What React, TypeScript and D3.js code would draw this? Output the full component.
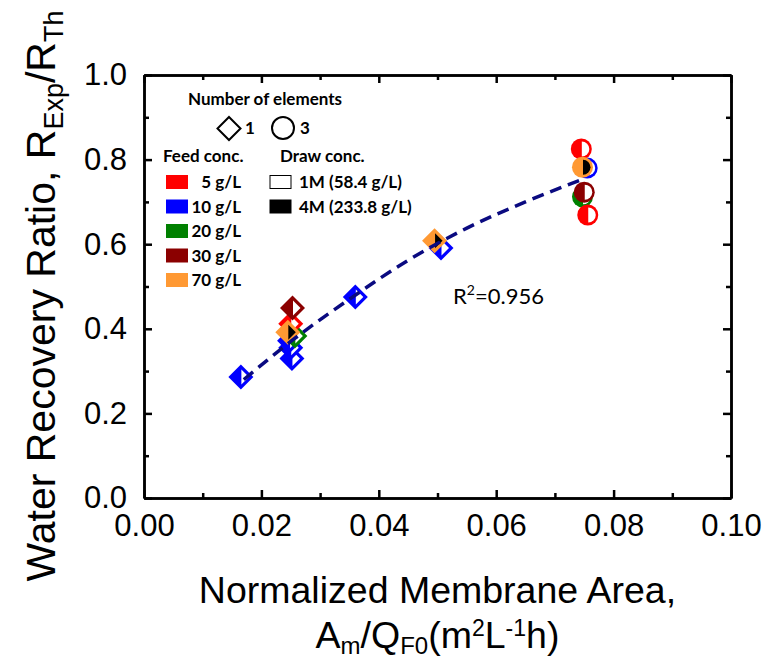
import React from 'react';
import * as d3 from 'd3';

// feed concentration categories
const feedLabels = ['5 g/L', '10 g/L', '20 g/L', '30 g/L', '70 g/L'];
const feedColors = ['#ff0000', '#0000ff', '#008000', '#8b0000', '#ff9933'];

// draw concentration categories
const drawLabels = ['1M (58.4 g/L)', '4M (233.8 g/L)'];
const drawColors = ['#ffffff', '#000000'];

// 1 element (diamonds): feed / draw are indices into the arrays above
const oneElement = [
  { x: 0.0165, y: 0.286, feed: 1, draw: 0 },
  { x: 0.0252, y: 0.330, feed: 1, draw: 0 },
  { x: 0.0250, y: 0.355, feed: 1, draw: 0 },
  { x: 0.0248, y: 0.372, feed: 1, draw: 0 },
  { x: 0.0360, y: 0.475, feed: 1, draw: 0 },
  { x: 0.0506, y: 0.591, feed: 1, draw: 0 },
  { x: 0.0257, y: 0.383, feed: 2, draw: 0 },
  { x: 0.0250, y: 0.412, feed: 0, draw: 0 },
  { x: 0.0253, y: 0.449, feed: 3, draw: 0 },
  { x: 0.0245, y: 0.392, feed: 4, draw: 1 },
  { x: 0.0495, y: 0.608, feed: 4, draw: 1 },
];

// 3 elements (circles)
const threeElement = [
  { x: 0.0755, y: 0.780, feed: 1, draw: 0 },
  { x: 0.0747, y: 0.712, feed: 2, draw: 0 },
  { x: 0.0745, y: 0.825, feed: 0, draw: 0 },
  { x: 0.0756, y: 0.669, feed: 0, draw: 0 },
  { x: 0.0750, y: 0.723, feed: 3, draw: 0 },
  { x: 0.0747, y: 0.782, feed: 4, draw: 1 },
];

// fitted trend line
const fitX = [0.017, 0.025, 0.035, 0.045, 0.055, 0.065, 0.075];
const fitY = [0.280, 0.370, 0.470, 0.562, 0.638, 0.700, 0.755];

const xMajor = [0, 0.02, 0.04, 0.06, 0.08, 0.10];
const xMinor = [0.01, 0.03, 0.05, 0.07, 0.09];
const yMajor = [0, 0.2, 0.4, 0.6, 0.8, 1.0];
const yMinor = [0.1, 0.3, 0.5, 0.7, 0.9];

const App = () => {
  const svgRef = React.useRef<SVGSVGElement>(null);

  const width = 765;
  const height = 662;
  const plot = { left: 144, right: 731, top: 75, bottom: 498 };

  React.useEffect(() => {
    const svg = d3.select(svgRef.current);
    svg.selectAll('*').remove();

    const x = d3.scaleLinear().domain([0, 0.1]).range([plot.left, plot.right]);
    const y = d3.scaleLinear().domain([0, 1]).range([plot.bottom, plot.top]);

    const tickFont = '"Liberation Sans", Arial, sans-serif';

    // axes (ticks inward on all four sides)
    const addAxis = (axis: any, transform: string, labels: boolean) => {
      const g = svg.append('g').attr('transform', transform).call(axis);
      g.select('.domain').attr('stroke-width', 2.5);
      g.selectAll('.tick line').attr('stroke-width', 2.5);
      g.selectAll('text')
        .style('font-family', tickFont)
        .style('font-size', '31px')
        .attr('fill', '#000');
      if (!labels) g.selectAll('text').remove();
      return g;
    };

    addAxis(
      d3.axisBottom(x).tickValues(xMajor).tickSize(-8).tickSizeOuter(0).tickPadding(16).tickFormat(d3.format('.2f')),
      `translate(0,${plot.bottom})`, true);
    addAxis(d3.axisBottom(x).tickValues(xMinor).tickSize(-5).tickSizeOuter(0),
      `translate(0,${plot.bottom})`, false);
    addAxis(d3.axisTop(x).tickValues(xMajor).tickSize(-8).tickSizeOuter(0),
      `translate(0,${plot.top})`, false);
    addAxis(d3.axisTop(x).tickValues(xMinor).tickSize(-5).tickSizeOuter(0),
      `translate(0,${plot.top})`, false);
    addAxis(
      d3.axisLeft(y).tickValues(yMajor).tickSize(-8).tickSizeOuter(0).tickPadding(17).tickFormat(d3.format('.1f')),
      `translate(${plot.left},0)`, true);
    addAxis(d3.axisLeft(y).tickValues(yMinor).tickSize(-5).tickSizeOuter(0),
      `translate(${plot.left},0)`, false);
    addAxis(d3.axisRight(y).tickValues(yMajor).tickSize(-8).tickSizeOuter(0),
      `translate(${plot.right},0)`, false);
    addAxis(d3.axisRight(y).tickValues(yMinor).tickSize(-5).tickSizeOuter(0),
      `translate(${plot.right},0)`, false);

    // fit line
    const line = d3.line<number>()
      .x((d, i) => x(fitX[i]))
      .y((d) => y(d))
      .curve(d3.curveMonotoneX);

    // markers: colored shape, right half filled with draw colour
    const markers = svg.append('g');
    const diamondOuter = 12.5;
    const diamondInner = 7.5;
    const circleR = 10.5;
    const circleInner = 7.5;

    oneElement.forEach((d) => {
      const g = markers.append('g').attr('transform', `translate(${x(d.x)},${y(d.y)})`);
      g.append('path')
        .attr('d', `M0,${-diamondOuter}L${diamondOuter},0L0,${diamondOuter}L${-diamondOuter},0Z`)
        .attr('fill', feedColors[d.feed]);
      g.append('path')
        .attr('d', `M0.5,${-diamondInner}L${diamondInner + 0.5},0L0.5,${diamondInner}Z`)
        .attr('fill', drawColors[d.draw]);
    });

    threeElement.forEach((d) => {
      const g = markers.append('g').attr('transform', `translate(${x(d.x)},${y(d.y)})`);
      g.append('circle').attr('r', circleR).attr('fill', feedColors[d.feed]);
      g.append('path')
        .attr('d', `M0.5,${-circleInner}A${circleInner},${circleInner} 0 0 1 0.5,${circleInner}Z`)
        .attr('fill', drawColors[d.draw]);
    });

    svg.append('path')
      .datum(fitY)
      .attr('d', line)
      .attr('fill', 'none')
      .attr('stroke', '#0a0a80')
      .attr('stroke-width', 3.5)
      .style('stroke-dasharray', '12,7');

    // R^2 annotation
    const r2 = svg.append('text')
      .attr('x', 453)
      .attr('y', 304)
      .style('font-family', 'Lato, "Open Sans", sans-serif')
      .style('font-size', '22px')
      .attr('fill', '#000');
    r2.append('tspan').text('R');
    r2.append('tspan').attr('dy', -9).style('font-size', '14px').text('2');
    r2.append('tspan').attr('dy', 9).text('=0.956');

    // legend
    const legendFont = 'Lato, "Open Sans", sans-serif';
    const legend = svg.append('g')
      .style('font-family', legendFont)
      .style('font-weight', 'bold')
      .style('font-size', '17px')
      .attr('fill', '#000');

    legend.append('text').attr('x', 188).attr('y', 105).text('Number of elements');

    legend.append('path')
      .attr('d', 'M229,117L240.5,128.5L229,140L217.5,128.5Z')
      .attr('fill', '#fff').attr('stroke', '#000').attr('stroke-width', 2);
    legend.append('text').attr('x', 245).attr('y', 134).text('1');
    legend.append('circle')
      .attr('cx', 283).attr('cy', 128).attr('r', 11)
      .attr('fill', '#fff').attr('stroke', '#000').attr('stroke-width', 2);
    legend.append('text').attr('x', 300).attr('y', 134).text('3');

    legend.append('text').attr('x', 163).attr('y', 162).text('Feed conc.');
    legend.append('text').attr('x', 280).attr('y', 162).text('Draw conc.');

    feedLabels.forEach((lab, i) => {
      const cy = 182 + i * 24.5;
      legend.append('rect')
        .attr('x', 166).attr('y', cy - 7).attr('width', 22).attr('height', 14)
        .attr('fill', feedColors[i]);
      legend.append('text')
        .attr('x', 241).attr('y', cy + 6)
        .attr('text-anchor', 'end')
        .text(lab);
    });

    drawLabels.forEach((lab, i) => {
      const cy = 182 + i * 24.5;
      legend.append('rect')
        .attr('x', 270).attr('y', cy - 6.5).attr('width', 21).attr('height', 13)
        .attr('fill', drawColors[i]).attr('stroke', '#000').attr('stroke-width', 1);
      legend.append('text')
        .attr('x', 299).attr('y', cy + 6)
        .text(lab);
    });

    // axis titles
    const titleFont = '"Liberation Sans", Arial, sans-serif';
    const xt = svg.append('g')
      .style('font-family', titleFont)
      .style('font-size', '37.5px')
      .attr('fill', '#000');
    xt.append('text')
      .attr('x', (plot.left + plot.right) / 2)
      .attr('y', 603)
      .attr('text-anchor', 'middle')
      .text('Normalized Membrane Area,');
    const xt2 = xt.append('text')
      .attr('x', (plot.left + plot.right) / 2)
      .attr('y', 648)
      .attr('text-anchor', 'middle');
    xt2.append('tspan').text('A');
    xt2.append('tspan').attr('dy', 6).style('font-size', '24px').text('m');
    xt2.append('tspan').attr('dy', -6).text('/Q');
    xt2.append('tspan').attr('dy', 6).style('font-size', '24px').text('F0');
    xt2.append('tspan').attr('dy', -6).text('(m');
    xt2.append('tspan').attr('dy', -12).style('font-size', '23px').text('2');
    xt2.append('tspan').attr('dy', 12).text('L');
    xt2.append('tspan').attr('dy', -12).style('font-size', '23px').text('-1');
    xt2.append('tspan').attr('dy', 12).text('h)');

    const yt = svg.append('text')
      .attr('transform', `translate(55,${296}) rotate(-90)`)
      .attr('text-anchor', 'middle')
      .style('font-family', titleFont)
      .style('font-size', '41px')
      .attr('fill', '#000');
    yt.append('tspan').text('Water Recovery Ratio, R');
    yt.append('tspan').attr('dy', 8).style('font-size', '27px').text('Exp');
    yt.append('tspan').attr('dy', -8).text('/R');
    yt.append('tspan').attr('dy', 8).style('font-size', '27px').text('Th');

  // eslint-disable-next-line react-hooks/exhaustive-deps
  }, []);

  return (
    <svg
      ref={svgRef}
      width={width}
      height={height}
      style={{ position: 'absolute', left: 0, top: 0, background: '#fff' }}
    />
  );
};

export default App;
